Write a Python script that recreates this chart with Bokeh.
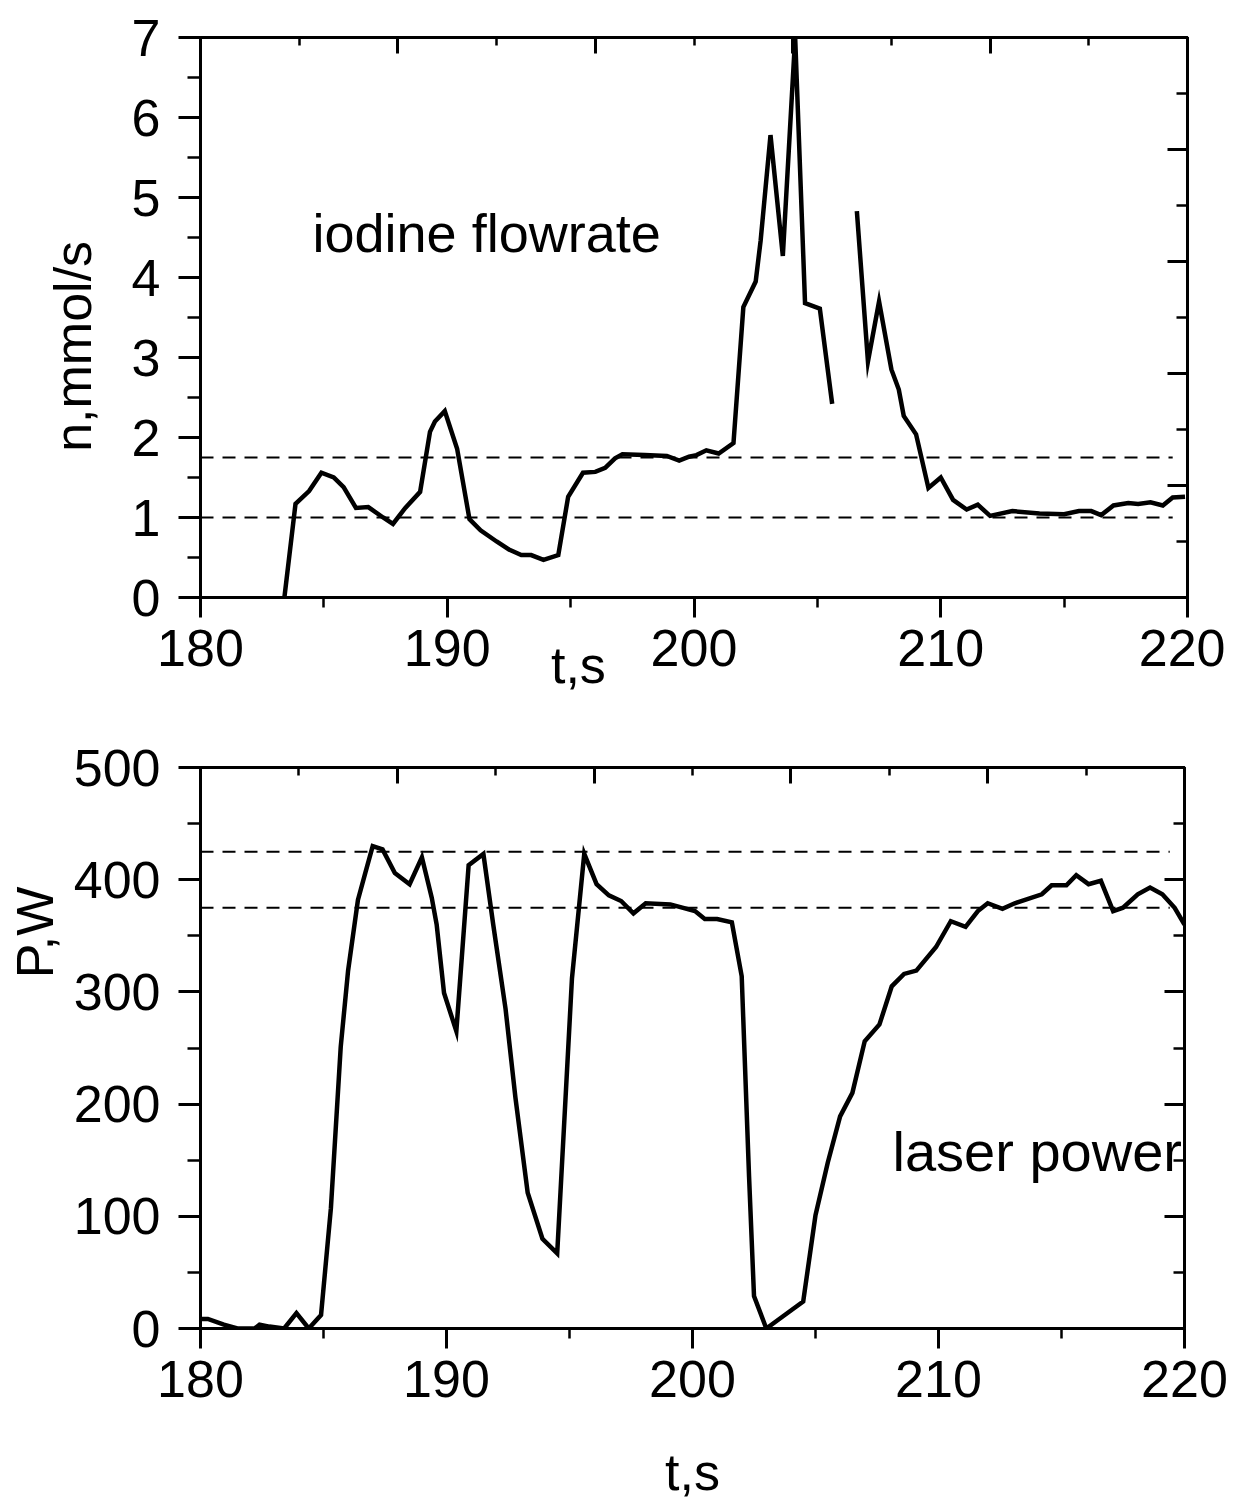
from bokeh.plotting import figure
from bokeh.models import (Range1d, LinearAxis, FixedTicker, SingleIntervalTicker,
                          Label, CustomJSTickFormatter)
from bokeh.layouts import column
from bokeh.embed import file_html
from bokeh.resources import INLINE

NaN = float("nan")
NB = "\u00a0"

# ---------------- data ----------------
iodine_t = [183.4, 183.85, 184.4, 184.9, 185.4, 185.8, 186.3, 186.8, 187.4, 187.8,
            188.3, 188.9, 189.3, 189.5, 189.9, 190.4, 190.9, 191.35, 192.0, 192.5,
            193.0, 193.4, 193.9, 194.5, 194.9, 195.5, 196.0, 196.4, 196.8, 197.1,
            198.0, 198.9, 199.4, 199.8, 200.1, 200.5, 201.0, 201.6, 202.0, 202.5,
            202.7, 203.1, 203.6, 204.1, 204.5, 205.1, 205.6, NaN, 206.6, 207.05,
            207.5, 208.0, 208.3, 208.5, 209.0, 209.5, 210.0, 210.5, 211.05, 211.5,
            212.0, 212.9, 214.0, 215.0, 215.6, 216.1, 216.5, 217.0, 217.6, 218.0,
            218.5, 219.0, 219.4, 219.9]
iodine_n = [0.0, 1.17, 1.33, 1.56, 1.5, 1.38, 1.12, 1.13, 1.0, 0.92,
            1.12, 1.32, 2.07, 2.2, 2.33, 1.86, 0.98, 0.84, 0.7, 0.6,
            0.53, 0.53, 0.47, 0.53, 1.26, 1.56, 1.57, 1.62, 1.74, 1.79,
            1.78, 1.77, 1.71, 1.76, 1.78, 1.84, 1.8, 1.93, 3.63, 3.95,
            4.46, 5.78, 4.27, 7.0, 3.68, 3.61, 2.42, NaN, 4.83, 2.95,
            3.7, 2.85, 2.6, 2.27, 2.04, 1.37, 1.5, 1.22, 1.1, 1.16,
            1.02, 1.08, 1.05, 1.04, 1.08, 1.08, 1.03, 1.15, 1.18, 1.17,
            1.19, 1.15, 1.25, 1.26]

power_t = [180.0, 180.3, 180.95, 181.5, 182.2, 182.4, 182.8, 183.4, 183.9, 184.4,
           184.9, 185.3, 185.7, 186.0, 186.4, 186.7, 187.0, 187.4, 187.9, 188.5,
           189.0, 189.4, 189.6, 189.9, 190.4, 190.9, 191.5, 191.9, 192.4, 192.8,
           193.3, 193.9, 194.5, 195.1, 195.6, 196.1, 196.6, 197.1, 197.6, 198.1,
           199.1, 200.1, 200.5, 201.0, 201.6, 202.0, 202.3, 202.5, 203.0, 203.75,
           204.5, 205.0, 205.5, 206.0, 206.5, 207.0, 207.6, 208.1, 208.6, 209.1,
           209.9, 210.5, 211.1, 211.6, 212.0, 212.6, 213.1, 214.2, 214.6, 215.2,
           215.6, 216.1, 216.6, 217.1, 217.5, 218.1, 218.6, 219.1, 219.6, 220.0]
power_w = [8.5, 8.5, 3.4, 0, 0, 3.4, 1.7, 0, 13.7, 0,
           12, 107, 251, 319, 382, 406, 430, 427, 406, 396,
           420, 384, 360, 299, 265, 413, 423, 360, 285, 206,
           121, 80, 67, 312, 423, 396, 386, 381, 370, 379,
           378, 372, 365, 365, 362, 314, 135, 29, 0, 12,
           24, 101, 148, 189, 210, 256, 271, 305, 316, 319,
           340, 363, 358, 372, 379, 374, 379, 387, 395, 395,
           404, 396, 399, 372, 375, 387, 393, 387, 375, 360]

iodine_levels = [1.0, 1.75]
power_levels = [375, 425]
level_t_start = 180.0
level_t_end = 219.4

x_major_top = [180, 188, 196, 204, 212, 220]
x_minor_top = [184, 192, 200, 208, 216]
n_major_right = [0, 1.4, 2.8, 4.2, 5.6, 7.0]
n_minor_right = [0.7, 2.1, 3.5, 4.9, 6.3]
p_major_right = [0, 100, 200, 300, 400, 500]
p_minor_right = [50, 150, 250, 350, 450]

FONT = "Liberation Sans"
FS = "52px"


def style_axis(ax, tick_out, minor_out, tick_in=0, minor_in=0, standoff=10):
    ax.axis_line_width = 3
    ax.axis_line_color = "black"
    ax.major_tick_line_width = 3
    ax.minor_tick_line_width = 2.5
    ax.major_tick_line_color = "black"
    ax.minor_tick_line_color = "black"
    ax.major_tick_out = tick_out
    ax.major_tick_in = tick_in
    ax.minor_tick_out = minor_out
    ax.minor_tick_in = minor_in
    ax.major_label_text_font = FONT
    ax.major_label_text_font_size = FS
    ax.major_label_text_color = "black"
    ax.major_label_standoff = standoff
    ax.axis_label_text_font = FONT
    ax.axis_label_text_font_size = FS
    ax.axis_label_text_font_style = "normal"
    ax.axis_label_text_color = "black"


def blank_axis(ticks, minors, tick_in, minor_in):
    ax = LinearAxis(ticker=FixedTicker(ticks=ticks, minor_ticks=minors),
                    formatter=CustomJSTickFormatter(code="return ''"))
    style_axis(ax, 0, 0, tick_in=tick_in, minor_in=minor_in, standoff=0)
    ax.major_label_text_font_size = "1px"
    return ax


def make_fig(ymax, fw, fh, top, right, bottom):
    p = figure(x_range=Range1d(180, 220), y_range=Range1d(0, ymax),
               frame_width=fw, frame_height=fh,
               min_border_left=200, min_border_top=top,
               min_border_right=right, min_border_bottom=bottom,
               output_backend="svg", toolbar_location=None)
    p.grid.visible = False
    p.outline_line_color = "black"
    p.outline_line_width = 3
    p.background_fill_color = "white"
    p.border_fill_color = "white"
    return p


# ---------------- top: iodine flowrate ----------------
p1 = make_fig(7, 987, 560, 37, 38, 110)
p1.xaxis.ticker = SingleIntervalTicker(interval=10, num_minor_ticks=2)
p1.yaxis.ticker = SingleIntervalTicker(interval=1, num_minor_ticks=2)
style_axis(p1.xaxis[0], 20, 10, standoff=12)
style_axis(p1.yaxis[0], 22, 13, standoff=18)
p1.xaxis.axis_label = "t,s" + NB * 16
p1.xaxis.axis_label_standoff = -33
p1.yaxis.axis_label = "n,mmol/s" + NB * 4
p1.yaxis.axis_label_standoff = 27

p1.add_layout(blank_axis(x_major_top, x_minor_top, 16, 8), "above")
p1.add_layout(blank_axis(n_major_right, n_minor_right, 20, 11), "right")

p1.segment(x0=[level_t_start] * len(iodine_levels), x1=[level_t_end] * len(iodine_levels),
           y0=iodine_levels, y1=iodine_levels,
           line_color="black", line_width=2, line_dash="13 9")
p1.line(iodine_t, iodine_n, line_color="black", line_width=4.5, line_join="miter")

p1.add_layout(Label(x=184.54, y=4.56, text="iodine flowrate", text_font=FONT,
                    text_font_size="54px", text_color="black",
                    text_baseline="alphabetic", text_align="left"))

# ---------------- bottom: laser power ----------------
p2 = make_fig(500, 984, 561, 60, 49, 172)
p2.xaxis.ticker = SingleIntervalTicker(interval=10, num_minor_ticks=2)
p2.yaxis.ticker = SingleIntervalTicker(interval=100, num_minor_ticks=2)
style_axis(p2.xaxis[0], 20, 10, standoff=12)
style_axis(p2.yaxis[0], 22, 13, standoff=18)
p2.xaxis.axis_label = "t,s"
p2.xaxis.axis_label_standoff = 43
p2.yaxis.axis_label = NB * 16 + "P,W"
p2.yaxis.axis_label_standoff = 7

p2.add_layout(blank_axis(x_major_top, x_minor_top, 16, 8), "above")
p2.add_layout(blank_axis(p_major_right, p_minor_right, 20, 11), "right")

p2.segment(x0=[level_t_start] * len(power_levels), x1=[level_t_end] * len(power_levels),
           y0=power_levels, y1=power_levels,
           line_color="black", line_width=2, line_dash="13 9")
p2.line(power_t, power_w, line_color="black", line_width=4.5, line_join="miter")

p2.add_layout(Label(x=208.13, y=158.0, text="laser power", text_font=FONT,
                    text_font_size="56px", text_color="black",
                    text_baseline="alphabetic", text_align="left"))

layout = column(p1, p2, spacing=0)
open("out.html", "w").write(file_html(layout, INLINE))
